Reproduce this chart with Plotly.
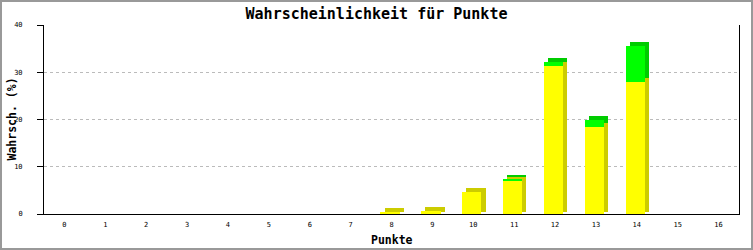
import plotly.graph_objects as go

punkte = list(range(17))
gelb = [0, 0, 0, 0, 0, 0, 0, 0, 0.4, 0.6, 4.7, 7.0, 31.4, 18.4, 27.9, 0, 0]
gruen = [0, 0, 0, 0, 0, 0, 0, 0, 0, 0, 0, 0.4, 0.8, 1.5, 7.6, 0, 0]
y_ticks = [0, 10, 20, 30, 40]

# 3D look parameters (style only)
DEPTH_Y = 0.85   # vertical depth in data units (~4px)
SIDE_BASE = 0.4  # side face starts a bit above the axis
BAR_W = 0.47
FRONT_OFF = -0.27
BACK_OFF = -0.17

tot = [g + r for g, r in zip(gelb, gruen)]
sh_y_base = [SIDE_BASE if t > 0 else None for t in tot]
sh_y_h = [(g + DEPTH_Y - SIDE_BASE) if t > 0 else None for g, t in zip(gelb, tot)]
sh_g_base = [(g + DEPTH_Y) if r > 0 else None for g, r in zip(gelb, gruen)]
sh_g_h = [r if r > 0 else None for r in gruen]
fr_y = [g if g > 0 else None for g in gelb]
fr_g = [r if r > 0 else None for r in gruen]

fig = go.Figure()
fig.add_trace(go.Bar(x=punkte, y=sh_y_h, base=sh_y_base, width=BAR_W, offset=BACK_OFF,
                     marker=dict(color="#cccc00", line=dict(width=0)), hoverinfo="skip"))
fig.add_trace(go.Bar(x=punkte, y=sh_g_h, base=sh_g_base, width=BAR_W, offset=BACK_OFF,
                     marker=dict(color="#00cc00", line=dict(width=0)), hoverinfo="skip"))
fig.add_trace(go.Bar(x=punkte, y=fr_y, base=0, width=BAR_W, offset=FRONT_OFF,
                     marker=dict(color="#ffff00", line=dict(width=0)), hoverinfo="skip"))
fig.add_trace(go.Bar(x=punkte, y=fr_g, base=gelb, width=BAR_W, offset=FRONT_OFF,
                     marker=dict(color="#00ff00", line=dict(width=0)), hoverinfo="skip"))

L, R, T, B = 44, 14, 25, 36
W, H = 753, 250
pw, ph = W - L - R, H - T - B

fig.update_layout(
    width=W, height=H,
    margin=dict(l=L, r=R, t=T, b=B, pad=0, autoexpand=False),
    paper_bgcolor="white", plot_bgcolor="white",
    barmode="overlay", bargap=0,
    showlegend=False,
    font=dict(family="DejaVu Sans Mono", size=7, color="black"),
    title=dict(text="<b>Wahrscheinlichkeit für Punkte</b>", x=0.5, xanchor="center",
               y=1 - 14 / H, yanchor="middle", yref="container",
               font=dict(family="DejaVu Sans Mono", size=15, color="black")),
    xaxis=dict(range=[-0.5, 16.5], tickmode="array", tickvals=punkte,
               ticktext=[str(p) for p in punkte], showgrid=False, zeroline=False,
               showline=True, linecolor="black", linewidth=1, ticks="",
               ticklabelstandoff=4,
               tickfont=dict(size=7), fixedrange=True, automargin=False),
    yaxis=dict(range=[0, 40], tickmode="array", tickvals=y_ticks,
               showgrid=True, gridcolor="#bbbbbb", griddash="dot", gridwidth=1,
               zeroline=False, showline=True, linecolor="black", linewidth=1,
               mirror=True, ticks="outside", ticklen=6, tickcolor="black",
               ticklabelstandoff=13, tickfont=dict(size=7), fixedrange=True,
               automargin=False),
    annotations=[
        dict(text="<b>Punkte</b>", xref="paper", yref="paper", x=0.5,
             y=-(240 - (H - B)) / ph, xanchor="center", yanchor="middle",
             showarrow=False, font=dict(family="DejaVu Sans Mono", size=11.5)),
        dict(text="<b>Wahrsch. (%)</b>", xref="paper", yref="paper",
             x=(11 - L) / pw, y=0.5, xanchor="center", yanchor="middle",
             textangle=-90, showarrow=False,
             font=dict(family="DejaVu Sans Mono", size=11.5)),
    ],
)

# outer image frame
fig.add_shape(type="rect", xref="paper", yref="paper",
              x0=(-L + 1) / pw, x1=(W - L - 1) / pw,
              y0=(-B + 1) / ph, y1=(H - B - 1) / ph,
              line=dict(color="#999999", width=2), layer="above")

fig.write_html("out.html")
